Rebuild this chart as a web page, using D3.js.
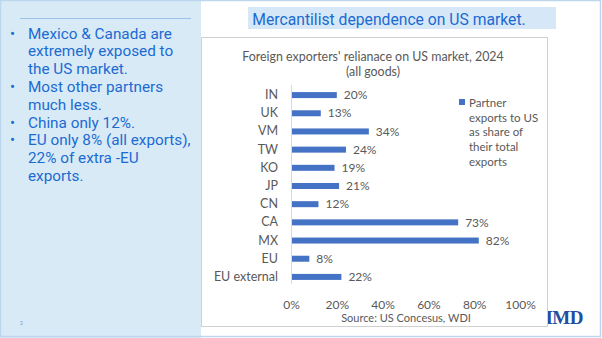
<!DOCTYPE html>
<html>
<head>
<meta charset="utf-8">
<script src="https://cdn.jsdelivr.net/npm/d3@7"></script>
<style>
  html, body { margin: 0; padding: 0; background: #ffffff; }
  svg { display: block; }
</style>
</head>
<body>
<svg id="slide" width="602" height="338"></svg>
<script>
// Partner share of exports going to the US, 2024 (percent)
const categories = ["IN", "UK", "VM", "TW", "KO", "JP", "CN", "CA", "MX", "EU", "EU external"];
const shares = [20, 13, 34, 24, 19, 21, 12, 73, 82, 8, 22];
const tickValues = [0, 20, 40, 60, 80, 100];

const slideTitle = "Mercantilist dependence on US market.";
const chartTitle = ["Foreign exporters' relianace on US market, 2024", "(all goods)"];
const legendLines = ["Partner", "exports to US", "as share of", "their total", "exports"];
const sourceNote = "Source: US Concesus, WDI";
const bullets = [
  ["Mexico & Canada are", "extremely exposed to", "the US market."],
  ["Most other partners", "much less."],
  ["China only 12%."],
  ["EU only 8% (all exports),", "22% of extra -EU", "exports."]
];

const svg = d3.select("#slide");
const blue = "#1b6ad2";
const grey = "#595959";
const barColor = "#4472c4";
const chartFont = "Lato, 'Open Sans', sans-serif";

// Left notes panel
svg.append("rect").attr("x", 0).attr("y", 0).attr("width", 201).attr("height", 338).attr("fill", "#d9eaf7");
svg.append("line").attr("x1", 20).attr("x2", 191).attr("y1", 18.5).attr("y2", 18.5)
  .attr("stroke", "#9dc3ea").attr("stroke-width", 1);

let lineY = 38.5;
const lineStep = 17.8;
bullets.forEach(group => {
  svg.append("text").attr("x", 10).attr("y", lineY).attr("fill", blue)
    .attr("font-family", "Roboto, sans-serif").attr("font-size", 15).text("•");
  group.forEach(line => {
    svg.append("text").attr("x", 28).attr("y", lineY).attr("fill", blue)
      .attr("font-family", "Roboto, sans-serif").attr("font-size", 15.3).text(line);
    lineY += lineStep;
  });
});
svg.append("text").attr("x", 20).attr("y", 325).attr("fill", "#5b8fd9")
  .attr("font-family", "Roboto, sans-serif").attr("font-size", 5).text("2");

// Slide title band
svg.append("rect").attr("x", 248).attr("y", 7).attr("width", 308).attr("height", 22).attr("fill", "#d6e8f7");
svg.append("text").attr("x", 389).attr("y", 24.5).attr("text-anchor", "middle").attr("fill", blue)
  .attr("font-family", "Roboto, sans-serif").attr("font-size", 15.7).text(slideTitle);

// Logo sits partly behind the chart frame
svg.append("text").attr("x", 583).attr("y", 324).attr("text-anchor", "end").attr("fill", "#1d4fa3")
  .attr("font-family", "'Liberation Serif', serif").attr("font-weight", "bold").attr("font-size", 19)
  .attr("letter-spacing", -0.5).text("IMD");

// Chart frame
svg.append("rect").attr("x", 201.5).attr("y", 37.5).attr("width", 346).attr("height", 289)
  .attr("fill", "#ffffff").attr("stroke", "#d0d0d0").attr("stroke-width", 1);

// Slide border
svg.append("rect").attr("x", 0.5).attr("y", 0.5).attr("width", 600).attr("height", 336)
  .attr("fill", "none").attr("stroke", "#bcd6ee").attr("stroke-width", 1.5);

// Chart title
chartTitle.forEach((t, i) => {
  svg.append("text").attr("x", 373).attr("y", 61 + i * 15).attr("text-anchor", "middle").attr("fill", grey)
    .attr("font-family", chartFont).attr("font-size", 12.4).text(t);
});

// Scales
const x = d3.scaleLinear().domain([0, 100]).range([291, 520]);
const y = d3.scaleBand().domain(categories).range([86, 286]).paddingInner(0.67).paddingOuter(0.335);

// Category axis
const yAxis = svg.append("g").attr("transform", `translate(${x(0)},0)`)
  .call(d3.axisLeft(y).tickSize(0).tickPadding(13));
yAxis.select(".domain").attr("stroke", "#d9d9d9").attr("d", "M0.5,85V284");
yAxis.selectAll("text").attr("fill", grey).attr("font-family", chartFont).attr("font-size", 12.5);

// Value axis labels (no line)
const xAxis = svg.append("g").attr("transform", "translate(0,297)")
  .call(d3.axisBottom(x).tickValues(tickValues).tickSize(0).tickFormat(d => d + "%"));
xAxis.select(".domain").remove();
xAxis.selectAll("text").attr("fill", grey).attr("font-family", chartFont).attr("font-size", 12);

// Bars
svg.append("g").selectAll("rect").data(categories).join("rect")
  .attr("x", x(0) + 1)
  .attr("y", d => y(d))
  .attr("width", (d, i) => x(shares[i]) - x(0) - 1)
  .attr("height", y.bandwidth())
  .attr("fill", barColor);

// Value labels
svg.append("g").selectAll("text").data(categories).join("text")
  .attr("x", (d, i) => x(shares[i]) + 7)
  .attr("y", d => y(d) + y.bandwidth() / 2)
  .attr("dy", "0.35em")
  .attr("fill", grey).attr("font-family", chartFont).attr("font-size", 12)
  .text((d, i) => shares[i] + "%");

// Legend
svg.append("rect").attr("x", 459).attr("y", 99).attr("width", 6).attr("height", 6).attr("fill", barColor);
legendLines.forEach((t, i) => {
  svg.append("text").attr("x", 469).attr("y", 107 + i * 14.7).attr("fill", grey)
    .attr("font-family", chartFont).attr("font-size", 11.5).text(t);
});

// Source note
svg.append("text").attr("x", 406).attr("y", 322).attr("text-anchor", "middle").attr("fill", grey)
  .attr("font-family", chartFont).attr("font-size", 11).text(sourceNote);
</script>
</body>
</html>
